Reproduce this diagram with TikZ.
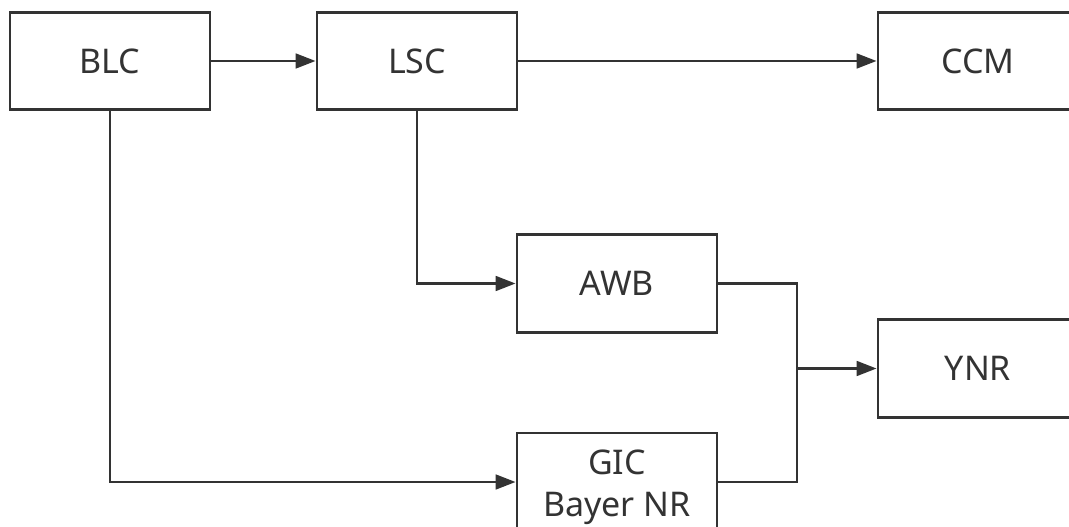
\documentclass[tikz,border=0pt]{standalone}
\usepackage{fontspec}
\setmainfont{Noto Sans}
\usetikzlibrary{arrows.meta}
\definecolor{ink}{HTML}{333333}
\begin{document}
\begin{tikzpicture}[x=0.75pt,y=-0.75pt,
  blk/.style={draw=ink,line width=2.1pt,minimum width=150pt,minimum height=73pt,
    inner sep=0pt,font=\fontsize{25.5}{31.5}\selectfont,text=ink,align=center},
  conn/.style={draw=ink,line width=2.1pt},
  arr/.style={conn,-{Triangle[length=15pt,width=11pt]}}]
\useasboundingbox (0,0) rectangle (1069,527);
\clip (0,0) rectangle (1069,527);
\node[blk] (blc) at (110,61) {BLC};
\node[blk] (lsc) at (417,61) {LSC};
\node[blk] (ccm) at (978,61) {CCM};
\node[blk] (awb) at (617,283.5) {AWB};
\node[blk] (ynr) at (978,368.5) {YNR};
\node[blk,minimum height=81pt] (gic) at (617,487) {GIC\\Bayer NR};
\coordinate (j) at (797,368.5);
\draw[arr] (blc.east) -- (lsc.west);
\draw[arr] (lsc.east) -- (ccm.west);
\draw[arr] (blc.south) |- ([yshift=3.75pt]gic.west);
\draw[arr] (lsc.south) |- (awb.west);
\draw[conn] (awb.east) -| (j);
\draw[conn] ([yshift=3.75pt]gic.east) -| (j);
\draw[arr] (j) -- (ynr.west);
\end{tikzpicture}
\end{document}
